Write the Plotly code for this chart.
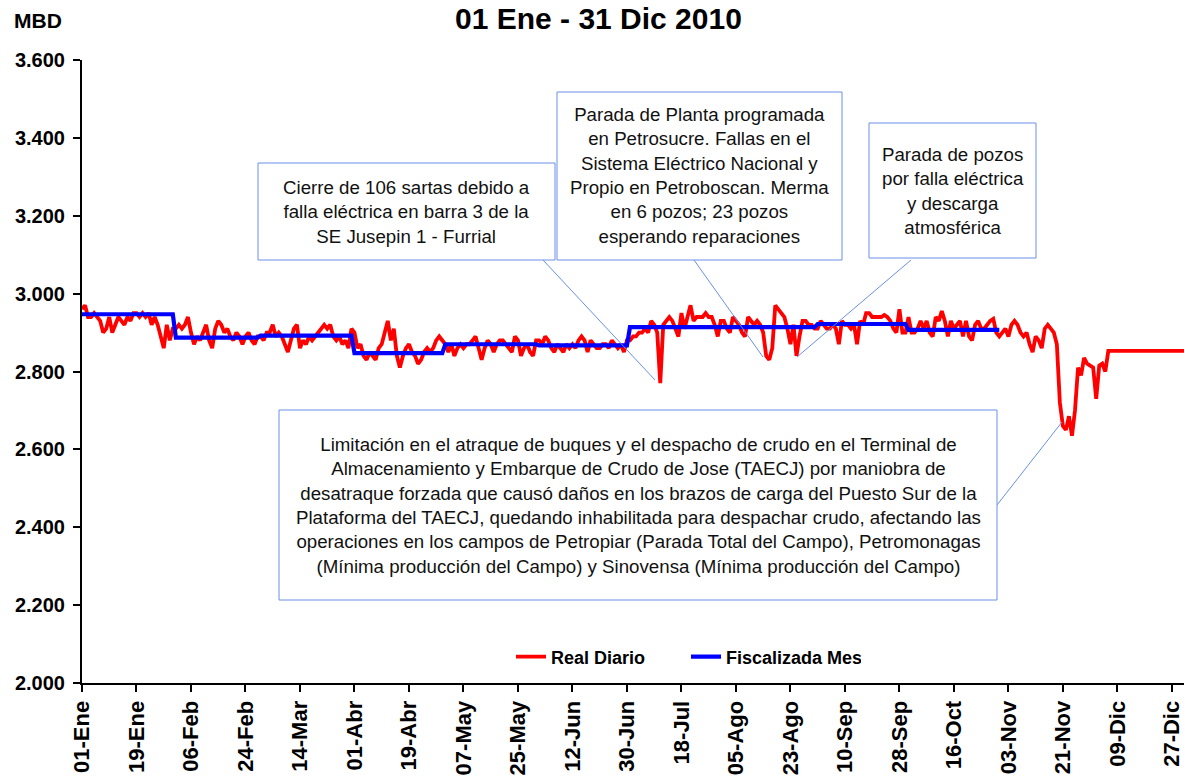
import pandas as pd
import plotly.graph_objects as go

# ---------------- data ----------------
meses = ["Ene", "Feb", "Mar", "Abr", "May", "Jun", "Jul", "Ago", "Sep", "Oct", "Nov", "Dic"]

real_ene = [2.96, 2.97, 2.94, 2.94, 2.95, 2.94, 2.93, 2.90, 2.91, 2.94, 2.90, 2.92, 2.94, 2.93, 2.92, 2.94,
            2.93, 2.95, 2.95, 2.94, 2.95, 2.94, 2.95, 2.92, 2.94, 2.92, 2.89, 2.86, 2.92, 2.88, 2.91]
real_feb = [2.91, 2.92, 2.91, 2.92, 2.94, 2.90, 2.87, 2.89, 2.88, 2.90, 2.92, 2.88, 2.86, 2.91,
            2.93, 2.92, 2.90, 2.91, 2.89, 2.88, 2.90, 2.89, 2.87, 2.89, 2.90, 2.88, 2.87, 2.89]
real_mar = [2.89, 2.88, 2.90, 2.90, 2.92, 2.89, 2.90, 2.89, 2.87, 2.85, 2.88, 2.91, 2.92, 2.86, 2.88, 2.87,
            2.89, 2.88, 2.89, 2.90, 2.91, 2.92, 2.91, 2.92, 2.89, 2.88, 2.89, 2.87, 2.88, 2.86, 2.91]
real_abr = [2.90, 2.86, 2.87, 2.84, 2.83, 2.85, 2.84, 2.83, 2.86, 2.87, 2.90, 2.93, 2.88, 2.91, 2.84,
            2.81, 2.84, 2.86, 2.87, 2.85, 2.84, 2.82, 2.83, 2.85, 2.86, 2.85, 2.86, 2.88, 2.89, 2.88]
real_may = [2.87, 2.85, 2.87, 2.84, 2.86, 2.87, 2.86, 2.87, 2.87, 2.88, 2.89, 2.86, 2.83, 2.86, 2.88, 2.87,
            2.85, 2.87, 2.88, 2.88, 2.87, 2.86, 2.85, 2.89, 2.88, 2.84, 2.86, 2.87, 2.85, 2.84, 2.88]
real_jun = [2.88, 2.87, 2.89, 2.88, 2.86, 2.85, 2.87, 2.86, 2.85, 2.87, 2.86, 2.87, 2.86, 2.88, 2.89,
            2.88, 2.85, 2.88, 2.87, 2.86, 2.86, 2.87, 2.87, 2.86, 2.88, 2.87, 2.86, 2.87, 2.85, 2.88]
real_jul = [2.88, 2.89, 2.89, 2.90, 2.90, 2.91, 2.90, 2.93, 2.92, 2.90, 2.77, 2.92, 2.93, 2.94, 2.93, 2.91,
            2.89, 2.95, 2.91, 2.94, 2.97, 2.93, 2.94, 2.94, 2.94, 2.95, 2.94, 2.94, 2.92, 2.89, 2.93]
real_ago = [2.93, 2.91, 2.90, 2.94, 2.93, 2.92, 2.90, 2.89, 2.94, 2.93, 2.92, 2.93, 2.92, 2.90, 2.84, 2.83,
            2.86, 2.97, 2.96, 2.95, 2.94, 2.91, 2.87, 2.92, 2.84, 2.89, 2.93, 2.93, 2.92, 2.92, 2.91]
real_sep = [2.91, 2.93, 2.92, 2.91, 2.91, 2.92, 2.91, 2.87, 2.93, 2.92, 2.92, 2.91, 2.92, 2.87, 2.93,
            2.92, 2.95, 2.95, 2.94, 2.94, 2.94, 2.94, 2.945, 2.94, 2.93, 2.91, 2.90, 2.96, 2.90, 2.90]
real_oct = [2.94, 2.90, 2.90, 2.91, 2.93, 2.91, 2.93, 2.90, 2.89, 2.94, 2.93, 2.955, 2.93, 2.89, 2.93, 2.91,
            2.92, 2.93, 2.89, 2.93, 2.89, 2.88, 2.92, 2.93, 2.91, 2.91, 2.92, 2.93, 2.935, 2.90, 2.89]
real_nov = [2.90, 2.91, 2.89, 2.92, 2.93, 2.92, 2.90, 2.89, 2.90, 2.87, 2.85, 2.89, 2.88, 2.86, 2.91,
            2.92, 2.91, 2.90, 2.87, 2.72, 2.66, 2.65, 2.685, 2.635, 2.70, 2.81, 2.79, 2.835, 2.82, 2.815]
real_dic = [2.81, 2.73, 2.815, 2.82, 2.80, 2.853, 2.853, 2.853, 2.853, 2.853, 2.853, 2.853, 2.853, 2.853,
            2.853, 2.853, 2.853, 2.853, 2.853, 2.853, 2.853, 2.853, 2.853, 2.853, 2.853, 2.853, 2.853, 2.853,
            2.853, 2.853, 2.853]

# Fiscalizada por mes (Ene..Oct)
fiscal_mes = [2.947, 2.887, 2.892, 2.847, 2.870, 2.867, 2.914, 2.914, 2.922, 2.907]

y_ticks = [2.0, 2.2, 2.4, 2.6, 2.8, 3.0, 3.2, 3.4, 3.6]
y_ticktext = ["2.000", "2.200", "2.400", "2.600", "2.800", "3.000", "3.200", "3.400", "3.600"]

# ---------------- build series ----------------
real = (real_ene + real_feb + real_mar + real_abr + real_may + real_jun + real_jul + real_ago +
        real_sep + real_oct + real_nov + real_dic)
dias = pd.date_range("2010-01-01", periods=len(real), freq="D")

dias_f = pd.date_range("2010-01-01", "2010-10-31", freq="D")
fiscal = [fiscal_mes[d.month - 1] for d in dias_f]

tick_dates = pd.date_range("2010-01-01", "2010-12-31", freq="18D")
tick_text = [f"{d.day:02d}-{meses[d.month - 1]}" for d in tick_dates]

FONT = "Liberation Sans, Arial, sans-serif"

fig = go.Figure()
fig.add_trace(go.Scatter(x=dias, y=real, mode="lines", name="<b>Real Diario</b>",
                         line=dict(color="#FF0000", width=3.8)))
fig.add_trace(go.Scatter(x=dias_f, y=fiscal, mode="lines", name="<b>Fiscalizada Mes</b>",
                         line=dict(color="#0000FF", width=4.2)))

# plot area in pixels
L, R, T, B = 82, 1184, 60, 683
W, H = 1185, 780


def px(x):
    return (x - L) / (R - L)


def py(y):
    return (B - y) / (B - T)


BOXC = "#6A8FE8"
boxes = [
    (258, 163, 555, 260, "Cierre de 106 sartas debido a<br>falla eléctrica en barra 3 de la<br>SE Jusepin 1 - Furrial"),
    (557, 92, 842, 260, "Parada de Planta programada<br>en Petrosucre. Fallas en el<br>Sistema Eléctrico Nacional y<br>"
                        "Propio en Petroboscan. Merma<br>en 6 pozos; 23 pozos<br>esperando reparaciones"),
    (869, 123, 1036, 258, "Parada de pozos<br>por falla eléctrica<br>y descarga<br>atmosférica"),
    (279, 410, 997, 600, "Limitación en el atraque de buques y el despacho de crudo en el Terminal de<br>"
                         "Almacenamiento y Embarque de Crudo de Jose (TAECJ) por maniobra de<br>"
                         "desatraque forzada que causó daños en los brazos de carga del Puesto Sur de la<br>"
                         "Plataforma del TAECJ, quedando inhabilitada para despachar crudo, afectando las<br>"
                         "operaciones en los campos de Petropiar (Parada Total del Campo), Petromonagas<br>"
                         "(Mínima producción del Campo) y Sinovensa (Mínima producción del Campo)"),
]
callouts = [
    (543, 260, 655, 380),
    (694, 260, 763, 357),
    (911, 260, 797, 357),
    (997, 505, 1062, 422),
]

shapes = []
for (x0, y0, x1, y1) in callouts:
    shapes.append(dict(type="line", xref="paper", yref="paper", x0=px(x0), y0=py(y0), x1=px(x1), y1=py(y1),
                       line=dict(color=BOXC, width=1)))
for (x0, y0, x1, y1, _) in boxes:
    shapes.append(dict(type="rect", xref="paper", yref="paper", x0=px(x0), y0=py(y0), x1=px(x1), y1=py(y1),
                       line=dict(color=BOXC, width=1), fillcolor="white", layer="above"))

annotations = []
for (x0, y0, x1, y1, txt) in boxes:
    annotations.append(dict(xref="paper", yref="paper", x=px((x0 + x1) / 2), y=py((y0 + y1) / 2),
                            text=txt, showarrow=False, xanchor="center", yanchor="middle",
                            align="center", font=dict(family=FONT, size=18.7, color="#111111")))

annotations.append(dict(xref="paper", yref="paper", x=px(12), y=py(20), text="<b>MBD</b>", showarrow=False,
                        xanchor="left", yanchor="middle", font=dict(family=FONT, size=21, color="black")))
annotations.append(dict(xref="paper", yref="paper", x=px(598), y=py(19), text="<b>01 Ene - 31 Dic 2010</b>",
                        showarrow=False, xanchor="center", yanchor="middle",
                        font=dict(family=FONT, size=30, color="black")))

fig.update_layout(
    width=W, height=H,
    margin=dict(l=L, r=W - R, t=T, b=H - B, pad=0, autoexpand=False),
    paper_bgcolor="white", plot_bgcolor="white",
    font=dict(family=FONT, color="black"),
    showlegend=True,
    legend=dict(orientation="h", x=px(511), y=py(657), xanchor="left", yanchor="middle",
                font=dict(family=FONT, size=18, color="black"), bgcolor="rgba(0,0,0,0)",
                itemwidth=30, entrywidthmode="pixels", entrywidth=130),
    shapes=shapes,
    annotations=annotations,
)
fig.update_xaxes(range=[pd.Timestamp("2010-01-01"), pd.Timestamp("2010-12-31")],
                 tickvals=tick_dates, ticktext=[f"<b>{t}</b>" for t in tick_text], tickangle=-90,
                 showgrid=False, zeroline=False, showline=True, linecolor="black", linewidth=2,
                 ticks="outside", ticklen=7, tickwidth=2, tickcolor="black", automargin=False,
                 tickfont=dict(family=FONT, size=22, color="black"))
fig.update_yaxes(range=[2.0, 3.6], tickvals=y_ticks, ticktext=[f"<b>{t}</b>" for t in y_ticktext],
                 showgrid=False, zeroline=False, showline=True, linecolor="black", linewidth=2,
                 ticks="outside", ticklen=7, tickwidth=2, tickcolor="black", automargin=False,
                 ticklabelstandoff=4,
                 tickfont=dict(family=FONT, size=20, color="black"))

fig.write_html("out.html", config={"displayModeBar": False},
               post_script="document.body.style.margin='0';document.body.style.overflow='hidden';")
